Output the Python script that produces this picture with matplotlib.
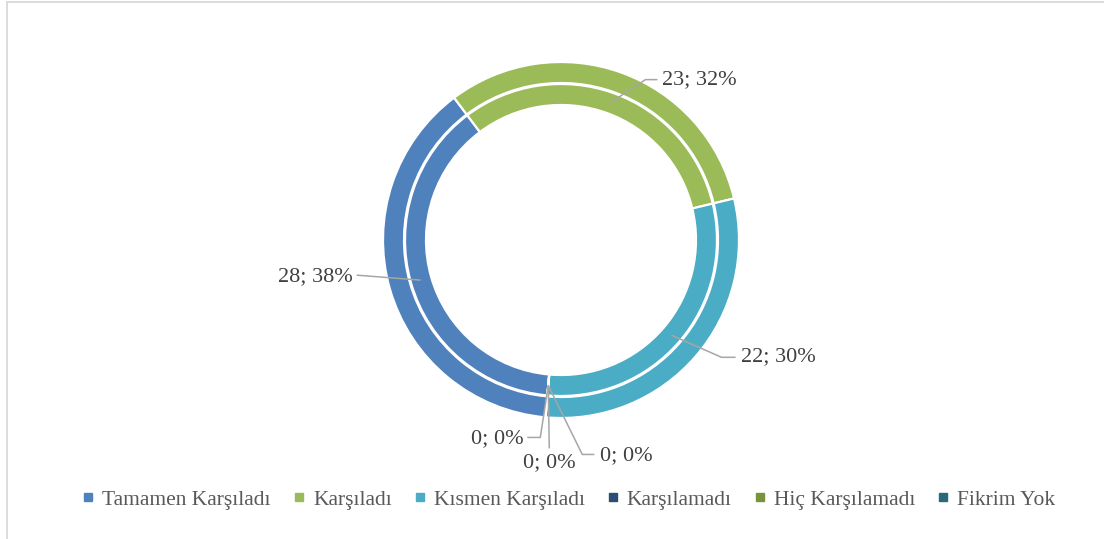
import matplotlib
matplotlib.use('Agg')
import numpy as np
from matplotlib import pyplot as plt
from matplotlib.lines import Line2D
from matplotlib.patches import Rectangle

# veriler
kategoriler = ['Tamamen Karşıladı', 'Karşıladı', 'Kısmen Karşıladı',
               'Karşılamadı', 'Hiç Karşılamadı', 'Fikrim Yok']
degerler = [28, 23, 22, 0, 0, 0]
renkler = ['#4F81BD', '#9BBB59', '#4BACC6', '#2C4D75', '#77933C', '#276A7C']

plt.rcParams['font.family'] = ['Liberation Serif', 'DejaVu Serif']

W, H = 1104, 539
fig = plt.figure(figsize=(W / 100, H / 100), dpi=100)
ax = fig.add_axes([0, 0, 1, 1])

merkez = (561, H - 240)
toplam = sum(degerler)

# dis halka
ax.pie(degerler, colors=renkler, startangle=-95, counterclock=False,
       center=merkez, radius=178,
       wedgeprops=dict(width=21, edgecolor='white', linewidth=1.6))
# ic halka
dilimler, _ = ax.pie(degerler, colors=renkler, startangle=-95, counterclock=False,
                     center=merkez, radius=156,
                     wedgeprops=dict(width=21, edgecolor='white', linewidth=1.6))

ax.set_xlim(0, W)
ax.set_ylim(0, H)
ax.set_aspect('equal')
ax.axis('off')

# etiket yerlesimi: (kirilma noktasi, cizgi sonu, yazi yeri, hizalama)
yerlesim = [
    ((-64, 5), (-64, 5), (-68, 3), 'right'),
    ((35, 23), (47, 23), (52, 23), 'left'),
    ((50, -22), (64, -22), (69, -21), 'left'),
    ((-8, -52), (-21, -52), (-25, -53), 'right'),
    ((1, -63), (1, -63), (1, -77), 'center'),
    ((34, -69), (46, -69), (52, -70), 'left'),
]

r_etiket = 146
for w, d, (k, s, t, ha) in zip(dilimler, degerler, yerlesim):
    aci = np.deg2rad((w.theta1 + w.theta2) / 2)
    x0 = merkez[0] + r_etiket * np.cos(aci)
    y0 = merkez[1] + r_etiket * np.sin(aci)
    ax.plot([x0, x0 + k[0], x0 + s[0]], [y0, y0 + k[1], y0 + s[1]],
            color='#A6A6A6', lw=1.1, solid_capstyle='butt', zorder=5)
    yuzde = round(100 * d / toplam)
    ax.text(x0 + t[0], y0 + t[1], f'{d}; {yuzde}%', ha=ha, va='center',
            fontsize=16, color='#404040')

# lejant
tutamaclar = [Line2D([], [], marker='s', color=c, linestyle='none', markersize=5.5)
              for c in renkler]
fig.legend(tutamaclar, kategoriler, loc='center', ncol=6,
           bbox_to_anchor=(0.515, 1 - 500 / H), frameon=False,
           fontsize=15.5, labelcolor='#595959', handlelength=0.6,
           handletextpad=0.35, columnspacing=1.0)

# grafik alani cercevesi
fig.patches.append(Rectangle((6.5 / W, -0.05), 1.1, 1.05 - 2 / H + 0.0,
                             transform=fig.transFigure, fill=False,
                             edgecolor='#D9D9D9', linewidth=1.3))

plt.savefig('out.png', dpi=100)
